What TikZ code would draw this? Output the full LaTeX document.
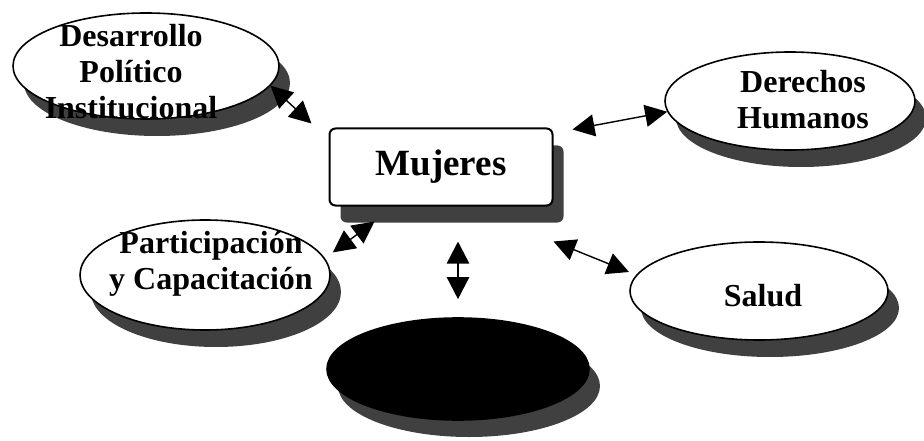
\documentclass[tikz,border=0pt]{standalone}
\usepackage{fontspec}
\setmainfont{Liberation Serif}
\usetikzlibrary{shapes.geometric,shadows,arrows.meta}

\begin{document}
\begin{tikzpicture}[x=1pt,y=1pt,
    sombra/.style={drop shadow={shadow xshift=11pt,shadow yshift=-17pt,fill=black!75,opacity=1}},
    tema/.style={ellipse,draw,line width=1.6pt,fill=white,inner sep=0pt,sombra},
    texto/.style={align=center,font=\bfseries\fontsize{32}{36}\selectfont,inner sep=0pt},
    enlace/.style={{Triangle[length=22pt 0,width=22pt 0]}-{Triangle[length=22pt 0,width=22pt 0]},line width=1.4pt}]
    \useasboundingbox (0,0) rectangle (924,-441);
    \node[tema,minimum width=266pt,minimum height=106pt] (des) at (146,-66) {};
    \node[texto] (des-t) at (131,-72) {Desarrollo\\Político\\Institucional};
    \node[draw,rounded corners=6pt,line width=2pt,fill=white,sombra,minimum width=223pt,minimum height=77pt,
        font=\bfseries\fontsize{37}{44}\selectfont] (muj) at (441,-167) {Mujeres};
    \node[tema,minimum width=250pt,minimum height=98pt] (der) at (790,-101) {};
    \node[texto] (der-t) at (803,-100) {Derechos\\Humanos};
    \node[tema,minimum width=250pt,minimum height=110pt] (par) at (205,-275) {};
    \node[texto] (par-t) at (211,-264) {Participación\\y Capacitación};
    \node[tema,minimum width=258pt,minimum height=98pt] (sal) at (759,-291) {};
    \node[texto] (sal-t) at (763,-296) {Salud};
    \node[tema,fill=black,minimum width=262pt,minimum height=102pt] (neg) at (458,-369) {};
    \draw [enlace] (des.-9) -- ([shift={(-17pt,4pt)}]muj.north west);
    \draw [enlace] ([shift={(19pt,-2pt)}]muj.north east) -- (der.185);
    \draw [enlace] ([shift={(11pt,2pt)}]par.10) -- ([shift={(46pt,-15pt)}]muj.south west);
    \draw [enlace,line width=2.5pt,shorten <=35pt,shorten >=18pt] (muj.south -| neg.north) -- (neg.north);
    \draw [enlace] ([yshift=-35pt]muj.south east) -- ([xshift=-10pt]sal.171);
\end{tikzpicture}
\end{document}
